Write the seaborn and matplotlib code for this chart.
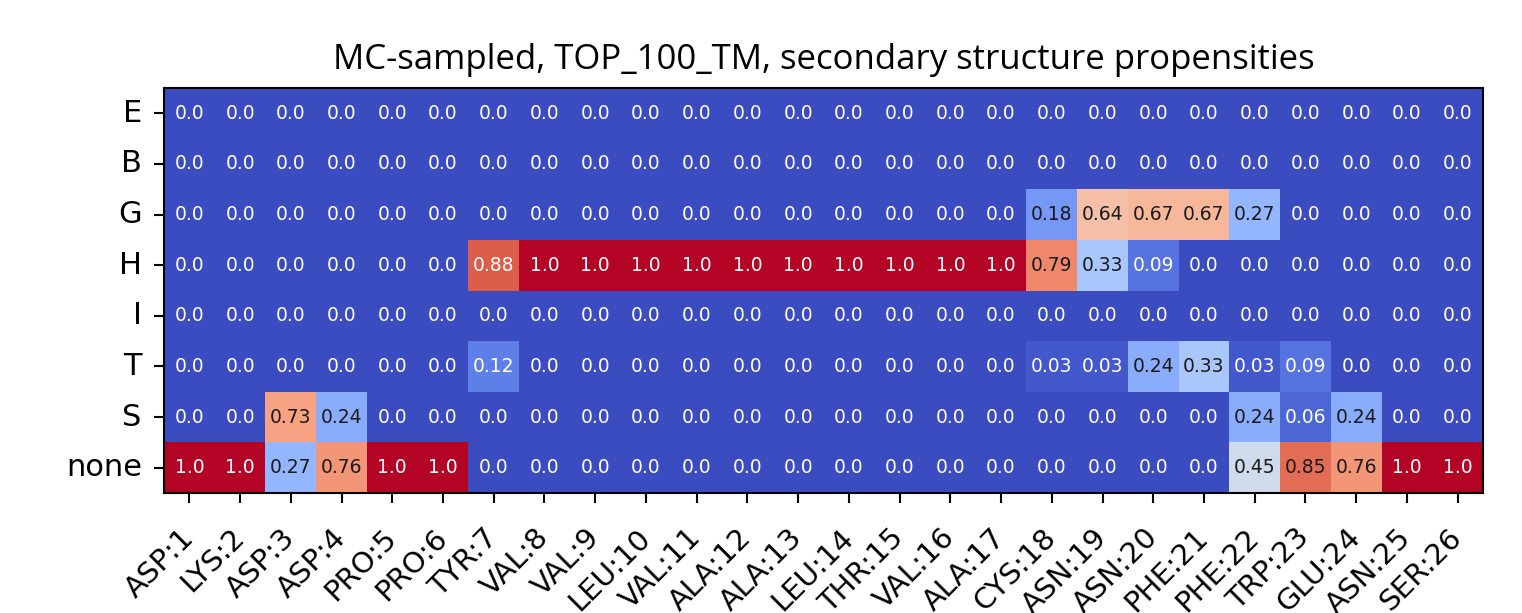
import numpy as np
import pandas as pd
import seaborn as sns
import matplotlib.pyplot as plt

# secondary structure classes (rows) and residues (columns)
ss_types = ["E", "B", "G", "H", "I", "T", "S", "none"]
residues = ["ASP:1", "LYS:2", "ASP:3", "ASP:4", "PRO:5", "PRO:6", "TYR:7",
            "VAL:8", "VAL:9", "LEU:10", "VAL:11", "ALA:12", "ALA:13", "LEU:14",
            "THR:15", "VAL:16", "ALA:17", "CYS:18", "ASN:19", "ASN:20", "PHE:21",
            "PHE:22", "TRP:23", "GLU:24", "ASN:25", "SER:26"]

E = [0.0] * 26
B = [0.0] * 26
G = [0.0] * 17 + [0.18, 0.64, 0.67, 0.67, 0.27, 0.0, 0.0, 0.0, 0.0]
H = [0.0] * 6 + [0.88] + [1.0] * 10 + [0.79, 0.33, 0.09, 0.0, 0.0, 0.0, 0.0, 0.0, 0.0]
I = [0.0] * 26
T = [0.0] * 6 + [0.12] + [0.0] * 10 + [0.03, 0.03, 0.24, 0.33, 0.03, 0.09, 0.0, 0.0, 0.0]
S = [0.0, 0.0, 0.73, 0.24] + [0.0] * 17 + [0.24, 0.06, 0.24, 0.0, 0.0]
none = [1.0, 1.0, 0.27, 0.76, 1.0, 1.0] + [0.0] * 15 + [0.45, 0.85, 0.76, 1.0, 1.0]

df = pd.DataFrame([E, B, G, H, I, T, S, none], index=ss_types, columns=residues)
labels = df.map(lambda v: str(round(v, 2)))

fig = plt.figure(figsize=(15.22, 6.13), dpi=100)
ax = fig.add_axes([164 / 1522, 1 - 493 / 613, (1483 - 164) / 1522, (493 - 88) / 613])

sns.heatmap(df, ax=ax, cmap="coolwarm", vmin=0, vmax=1, cbar=False,
            annot=labels, fmt="", annot_kws={"fontsize": 13.5})

# text colour: dark on the mid-range cells, white on the extremes
for txt, v in zip(ax.texts, df.values.ravel()):
    txt.set_color("#1a1a1a" if 0.15 <= v <= 0.86 else "white")

for s in ax.spines.values():
    s.set_visible(True)
    s.set_linewidth(1.5)
    s.set_color("black")

ax.tick_params(axis="both", length=7, width=1.5)
ax.tick_params(axis="y", labelsize=22, pad=9)
ax.tick_params(axis="x", labelsize=21, pad=22)
ax.set_xticklabels(residues, rotation=45, ha="right", va="center",
                   rotation_mode="anchor")
ax.set_yticklabels(ss_types, rotation=0)
ax.set_xlabel("")
ax.set_ylabel("")
ax.set_title("MC-sampled, TOP_100_TM, secondary structure propensities",
             fontsize=25, family="Open Sans", pad=14)

plt.savefig("out.png", dpi=100)
plt.close()
